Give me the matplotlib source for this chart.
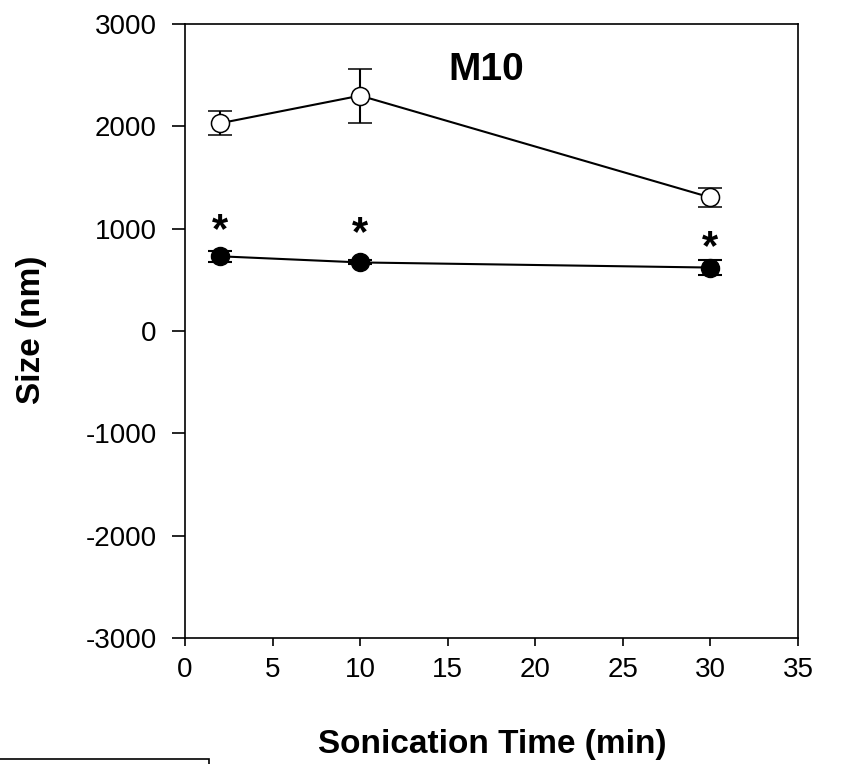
import matplotlib
matplotlib.use("Agg")
import matplotlib.pyplot as plt
from matplotlib.patches import Rectangle

plt.rcParams['font.family'] = ['Liberation Sans', 'DejaVu Sans']
plt.rcParams['axes.unicode_minus'] = False

# --- datos ---
tiempo = [2, 10, 30]
tamano_abierto = [2030, 2300, 1305]
error_abierto = [115, 265, 95]
tamano_lleno = [730, 670, 620]
error_lleno = [55, 20, 75]
asterisco_y = [1030, 1000, 860]

fig = plt.figure(figsize=(8.46, 7.64), dpi=100)
ax = fig.add_axes([185 / 846, 1 - 638 / 764, 613 / 846, 614 / 764])

# serie con circulos vacios
ax.errorbar(tiempo, tamano_abierto, yerr=error_abierto, color='black', lw=1.5,
            marker='o', ms=13, mfc='white', mec='black', mew=1.1,
            capsize=8.6, capthick=1.5, elinewidth=1.5, zorder=3)
# serie con circulos llenos
ax.errorbar(tiempo, tamano_lleno, yerr=error_lleno, color='black', lw=1.5,
            marker='o', ms=13, mfc='black', mec='black',
            capsize=8.6, capthick=1.5, elinewidth=1.5, zorder=3)

# asteriscos de significancia
for x, y in zip(tiempo, asterisco_y):
    ax.text(x, y - 50, '*', ha='center', va='center', fontsize=30, fontweight='bold')

ax.text(17.2, 2550, 'M10', ha='center', va='center', fontsize=28, fontweight='bold')

ax.set_xlim(0, 35)
ax.set_ylim(-3000, 3000)
ax.set_xticks(range(0, 36, 5))
ax.set_yticks(range(-3000, 3001, 1000))
ax.tick_params(axis='both', labelsize=20, direction='out', width=1.2)
ax.tick_params(axis='y', length=9.5, pad=11)
ax.tick_params(axis='x', length=6, pad=8)
for s in ax.spines.values():
    s.set_linewidth(1.2)

fig.text(492 / 846, 1 - 745 / 764, 'Sonication Time (min)', ha='center', va='center',
         fontsize=24, fontweight='bold')
fig.text(32 / 846, 1 - 330 / 764, 'Size (nm)', ha='center', va='center',
         fontsize=24, fontweight='bold', rotation=90)

# recuadro recortado abajo a la izquierda
fig.patches.append(Rectangle((-0.01, -0.1), 209 / 846 + 0.01, 0.1 + 5 / 764,
                             transform=fig.transFigure, fill=False, ec='black', lw=1.2))

fig.savefig('out.png', dpi=100)
